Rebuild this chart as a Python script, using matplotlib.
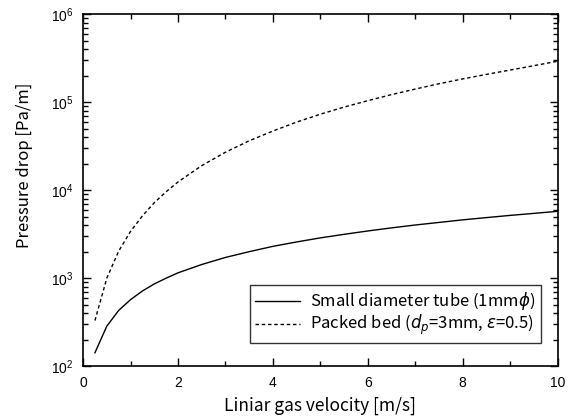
import matplotlib
matplotlib.use("Agg")
import matplotlib.pyplot as plt
from matplotlib.ticker import MultipleLocator, LogLocator, NullFormatter

plt.rcParams['font.family'] = ['Noto Sans CJK JP', 'DejaVu Sans']
plt.rcParams['mathtext.fontset'] = 'dejavusans'

# predkosc gazu [m/s] i spadek cisnienia [Pa/m]
predkosc = [0.25, 0.5, 0.75, 1.0, 1.25, 1.5, 1.75, 2.0, 2.5, 3.0, 3.5, 4.0,
            4.5, 5.0, 5.5, 6.0, 6.5, 7.0, 7.5, 8.0, 8.5, 9.0, 9.5, 10.0]
rurka = [142, 285, 430, 570, 715, 860, 1000, 1150, 1430, 1720, 2000, 2300,
         2580, 2870, 3150, 3440, 3730, 4020, 4300, 4600, 4880, 5170, 5450, 5750]
zloze = [330, 1000, 2030, 3400, 5100, 7200, 9600, 12400, 19000, 27000, 36400,
         47000, 59400, 73000, 88000, 104000, 122000, 141000, 162000, 184000,
         207000, 232000, 260000, 292000]

etykiety = ["Small diameter tube (1mm$\\phi$)",
            "Packed bed ($d_p$=3mm, $\\varepsilon$=0.5)"]

fig = plt.figure(figsize=(5.73, 4.18), dpi=100)
ax = fig.add_axes([0.145, 0.124, 0.828, 0.842])

ax.plot(predkosc, rurka, color="black", linewidth=1.0, label=etykiety[0])
ax.plot(predkosc, zloze, color="black", linewidth=1.0,
        linestyle=(0, (2.5, 2)), label=etykiety[1])

ax.set_yscale("log")
ax.set_xlim(0, 10)
ax.set_ylim(1e2, 1e6)

ax.xaxis.set_major_locator(MultipleLocator(2))
ax.xaxis.set_minor_locator(MultipleLocator(1))
ax.yaxis.set_major_locator(LogLocator(base=10, numticks=10))
ax.yaxis.set_minor_locator(LogLocator(base=10, subs=range(2, 10), numticks=10))
ax.yaxis.set_minor_formatter(NullFormatter())

ax.tick_params(which="both", direction="in", top=True, right=True, width=1.0,
               labelsize=10, labelfontfamily="Liberation Sans")
ax.tick_params(which="major", length=6)
ax.tick_params(which="minor", length=3.5)
ax.tick_params(axis="x", which="major", pad=7)
ax.tick_params(axis="y", which="major", pad=7)
for s in ax.spines.values():
    s.set_linewidth(1.2)

ax.set_xlabel("Liniar gas velocity [m/s]", fontsize=12.5, labelpad=5)
ax.set_ylabel("Pressure drop [Pa/m]", fontsize=12)
ax.yaxis.set_label_coords(-0.105, 0.57)

leg = ax.legend(loc="lower right", bbox_to_anchor=(0.966, 0.065),
                borderaxespad=0, fontsize=12, frameon=True, fancybox=False,
                edgecolor="black", handlelength=2.7, borderpad=0.35,
                labelspacing=0.05, handletextpad=0.6)
leg.get_frame().set_linewidth(1.0)

fig.savefig("out.png", dpi=100)
